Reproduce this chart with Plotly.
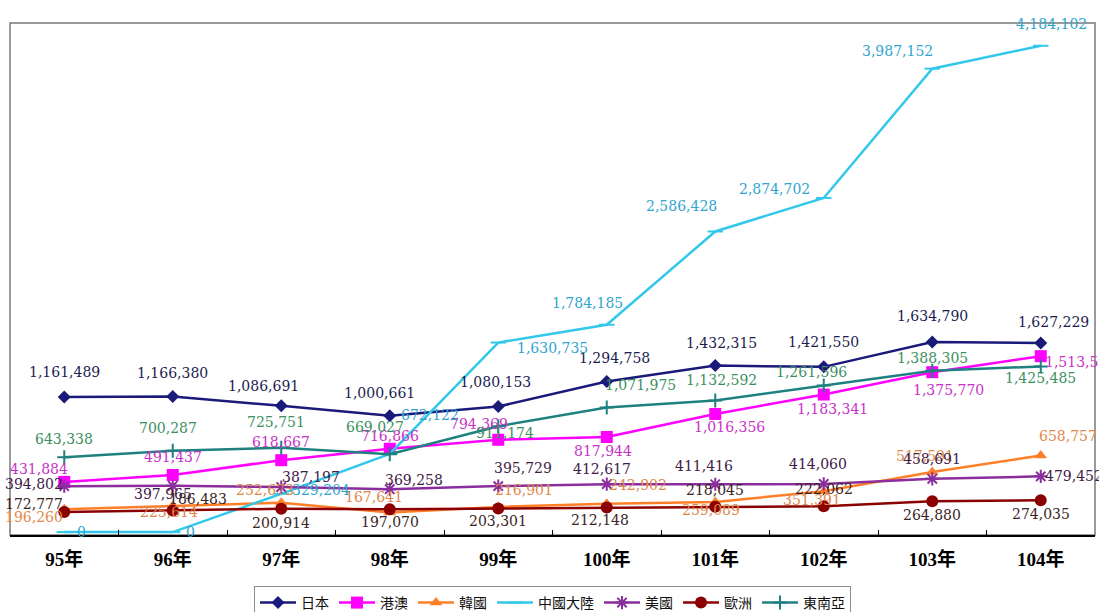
import plotly.graph_objects as go

years = ["95年", "96年", "97年", "98年", "99年", "100年", "101年", "102年", "103年", "104年"]

japan = [1161489, 1166380, 1086691, 1000661, 1080153, 1294758, 1432315, 1421550, 1634790, 1627229]
hkmacao = [431884, 491437, 618667, 716866, 794369, 817944, 1016356, 1183341, 1375770, 1513597]
korea = [196260, 225614, 252673, 167641, 216901, 242902, 259089, 351391, 517591, 658757]
china = [0, 0, 329204, 672122, 1630735, 1784185, 2586428, 2874702, 3987152, 4184102]
usa = [394802, 397965, 387197, 369258, 395729, 412617, 411416, 414060, 458691, 479452]
europe = [172777, 186483, 200914, 197070, 203301, 212148, 218045, 222062, 264880, 274035]
sea = [643338, 700287, 725751, 669027, 911174, 1071975, 1132592, 1261596, 1388305, 1425485]

names = ["日本", "港澳", "韓國", "中國大陸", "美國", "歐洲", "東南亞"]
series = [japan, hkmacao, korea, china, usa, europe, sea]

# styles
line_colors = ["#1a1a7a", "#ff00ff", "#ff7f27", "#33c8ea", "#8a2e9e", "#8b0000", "#1f8080"]
label_colors = ["#1c1c50", "#c832c8", "#e0884c", "#2fa4cf", "#3e2046", "#3a2424", "#3b8f60"]
symbols = ["diamond", "square", "triangle-up", "line-ew", "asterisk-open", "circle", "cross-thin-open"]
msizes = [10, 12, 11, 11, 11, 12, 10]

# label offsets in pixels (dx, dy up)
offsets = [
    [(0, 25), (0, 24), (-18, 20), (-10, 23), (-3, 25), (8, 24), (6, 23), (0, 25), (0, 26), (13, 21)],
    [(-25, 13), (0, 18), (0, 18), (0, 13), (-19, 16), (-4, -14), (14, -13), (9, -14), (16, -18), (40, -6)],
    [(-30, -8), (-4, -6), (-16, 13), (-16, 16), (26, 17), (31, 19), (-4, -8), (-12, -9), (-7, 16), (27, 20)],
    [(17, 0), (18, 0), (40, 4), (40, 39), (54, -5), (-19, 22), (-34, 25), (-49, 9), (-35, 18), (11, 22)],
    [(-30, 2), (-10, -8), (30, 10), (24, 9), (25, 18), (-5, 15), (-11, 18), (-6, 20), (0, 20), (33, 0)],
    [(-30, 8), (25, 11), (0, -14), (0, -13), (0, -13), (-7, -13), (0, 17), (0, 17), (0, -14), (0, -14)],
    [(0, 18), (-5, 23), (-5, 26), (-15, 27), (7, -7), (34, 23), (6, 20), (-12, 13), (0, 13), (0, -12)],
]

fig = go.Figure()
annotations = []
for i, (nm, vals) in enumerate(zip(names, series)):
    mk = dict(symbol=symbols[i], size=msizes[i], color=line_colors[i])
    if symbols[i] in ("line-ew", "asterisk-open", "cross-thin-open"):
        mk["line"] = dict(color=line_colors[i], width=2)
    fig.add_trace(go.Scatter(
        x=years, y=vals, name=nm, mode="lines+markers",
        line=dict(color=line_colors[i], width=2.5),
        marker=mk, cliponaxis=False,
    ))
    for j, v in enumerate(vals):
        dx, dy = offsets[i][j]
        annotations.append(dict(
            x=years[j], y=v, xref="x", yref="y", text=f"{v:,}", showarrow=False,
            xshift=dx, yshift=dy,
            font=dict(family="DejaVu Serif", size=14, color=label_colors[i]),
        ))

fig.update_layout(
    width=1099, height=612,
    margin=dict(l=10, r=4, t=23, b=77),
    paper_bgcolor="white", plot_bgcolor="white",
    showlegend=True,
    legend=dict(
        orientation="h", x=0.5, xanchor="center", xref="paper",
        y=0.0425, yanchor="top", yref="container",
        bordercolor="#8c8c8c", borderwidth=1, bgcolor="white",
        font=dict(family="Noto Sans CJK TC", size=14, color="#111111"),
        itemwidth=36, tracegroupgap=0,
    ),
    xaxis=dict(
        type="category", showgrid=False, zeroline=False,
        showline=True, linecolor="#000000", linewidth=2,
        ticks="inside", tickson="boundaries", ticklen=5, tickcolor="#000000", tickwidth=1,
        tickfont=dict(family="Liberation Serif, Noto Sans CJK TC", size=19, color="#000000"),
        ticklabelstandoff=6,
        range=[-0.5, 9.5],
    ),
    yaxis=dict(visible=False, range=[-25000, 4380000], showgrid=False, zeroline=False),
    annotations=annotations,
    shapes=[dict(type="rect", xref="paper", yref="paper", x0=0, x1=1, y0=0, y1=1,
                 line=dict(color="#7a7a7a", width=1.5), layer="below")],
)
fig.update_xaxes(tickvals=years, ticktext=[f"<b>{y}</b>" for y in years])

fig.write_html("out.html")
